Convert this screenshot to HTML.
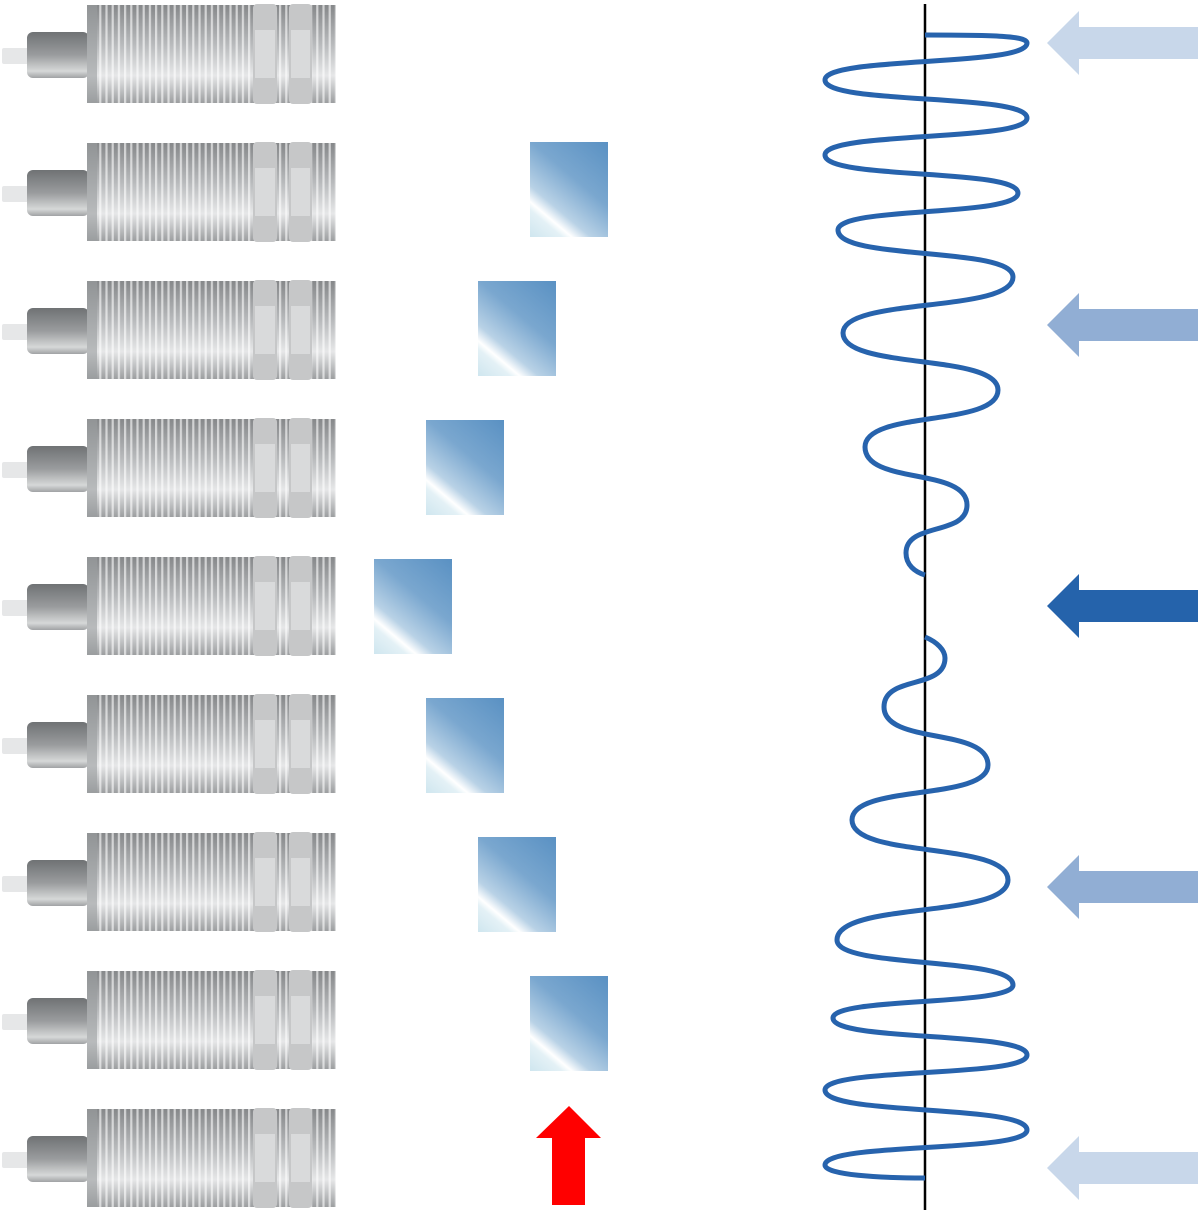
<!DOCTYPE html>
<html><head><meta charset="utf-8"><style>html,body{margin:0;padding:0;background:#fff}svg{display:block}</style></head>
<body>
<svg width="1200" height="1213" viewBox="0 0 1200 1213" xmlns="http://www.w3.org/2000/svg">
<defs>
<linearGradient id="body" x1="0" y1="0" x2="0" y2="1">
<stop offset="0" stop-color="#86888a"/><stop offset="0.4" stop-color="#b8babc"/><stop offset="0.72" stop-color="#e6e7e8"/><stop offset="1" stop-color="#9c9ea0"/>
</linearGradient>
<linearGradient id="cap" x1="0" y1="0" x2="0" y2="1">
<stop offset="0" stop-color="#6f7274"/><stop offset="0.5" stop-color="#9a9c9e"/><stop offset="0.85" stop-color="#d6d8d8"/><stop offset="1" stop-color="#a0a2a4"/>
</linearGradient>
<pattern id="thr" width="6.2" height="100" patternUnits="userSpaceOnUse">
<rect x="0" y="0" width="2.2" height="100" fill="#ffffff" opacity="0.6"/>
</pattern>
<linearGradient id="sq" x1="0" y1="1" x2="0.79" y2="-0.14">
<stop offset="0" stop-color="#cfe6ef"/><stop offset="0.17" stop-color="#e4f1f6"/><stop offset="0.22" stop-color="#ffffff"/><stop offset="0.32" stop-color="#b9d2e6"/><stop offset="0.6" stop-color="#7aa7cf"/><stop offset="1" stop-color="#5a91c3"/>
</linearGradient>
<g id="sensor">
<rect x="2" y="43" width="28" height="16" rx="2" fill="#e6e7e8"/>
<rect x="27" y="27" width="62" height="46" rx="6" fill="url(#cap)"/>
<rect x="87" y="0" width="249" height="98" fill="url(#body)"/>
<rect x="98" y="0" width="238" height="98" fill="url(#thr)"/>
<rect x="87" y="0" width="10" height="98" fill="#9a9c9e" opacity="0.6"/>
<rect x="253" y="-1" width="24" height="100" rx="4" fill="#c6c7c8"/>
<rect x="255" y="25" width="20" height="48" fill="#d9dadb"/>
<rect x="289" y="-1" width="23" height="100" rx="4" fill="#c6c7c8"/>
<rect x="291" y="25" width="19" height="48" fill="#d9dadb"/>
</g>
</defs>
<use href="#sensor" y="5"/>
<use href="#sensor" y="143"/>
<use href="#sensor" y="281"/>
<use href="#sensor" y="419"/>
<use href="#sensor" y="557"/>
<use href="#sensor" y="695"/>
<use href="#sensor" y="833"/>
<use href="#sensor" y="971"/>
<use href="#sensor" y="1109"/>

<rect x="530" y="142" width="78" height="95" fill="url(#sq)"/>
<rect x="478" y="281" width="78" height="95" fill="url(#sq)"/>
<rect x="426" y="420" width="78" height="95" fill="url(#sq)"/>
<rect x="374" y="559" width="78" height="95" fill="url(#sq)"/>
<rect x="426" y="698" width="78" height="95" fill="url(#sq)"/>
<rect x="478" y="837" width="78" height="95" fill="url(#sq)"/>
<rect x="530" y="976" width="78" height="95" fill="url(#sq)"/>

<polygon points="569,1106 601,1138 585,1138 585,1205 552,1205 552,1138 536,1138" fill="#ff0000"/>

<line x1="925" y1="4" x2="925" y2="1210" stroke="#000" stroke-width="2.5"/>
<g fill="none" stroke="#2763ad" stroke-width="5" stroke-linecap="butt">
<path d="M925,35 C995,35 1027,36 1027,43 C1027,67 825,56 825,80 C825,105 1027,93 1027,118 C1027,142 825,131 825,155 C825,180 1018,168 1018,193 C1018,217 838,206 838,230 C838,261 1013,246 1013,277 C1013,313 843,297 843,333 C843,370 998,353 998,390 C998,427 865,410 865,447 C865,485 967,467 967,505 C967,536 906,522 906,553 C906,565 915,572 925,575"/>
<path d="M925,637 C937,642 945,650 945,658 C945,690 884,675 884,707 C884,745 988,727 988,765 C988,801 852,784 852,820 C852,859 1008,841 1008,880 C1008,919 837,901 837,940 C837,969 1013,956 1013,985 C1013,1006 833,997 833,1018 C833,1042 1027,1031 1027,1055 C1027,1078 825,1067 825,1090 C825,1116 1027,1104 1027,1130 C1027,1153 825,1142 825,1165 C825,1175 880,1178 925,1178"/>
</g>

<polygon points="1047,43 1079,11 1079,27 1198,27 1198,59 1079,59 1079,75" fill="#c8d7ea"/>
<polygon points="1047,325 1079,293 1079,309 1198,309 1198,341 1079,341 1079,357" fill="#91aed4"/>
<polygon points="1047,606 1079,574 1079,590 1198,590 1198,622 1079,622 1079,638" fill="#2563ab"/>
<polygon points="1047,887 1079,855 1079,871 1198,871 1198,903 1079,903 1079,919" fill="#91aed4"/>
<polygon points="1047,1168 1079,1136 1079,1152 1198,1152 1198,1184 1079,1184 1079,1200" fill="#c8d7ea"/>
</svg>
</body></html>
